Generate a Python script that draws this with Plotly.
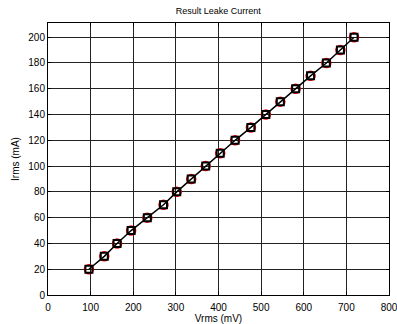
import plotly.graph_objects as go

vrms = [96, 132, 162, 195, 233, 271, 302, 336, 370, 404, 439, 476, 511, 545, 581, 616, 653, 686, 718]
irms = [20, 30, 40, 50, 60, 70, 80, 90, 100, 110, 120, 130, 140, 150, 160, 170, 180, 190, 200]
x_ticks = [0, 100, 200, 300, 400, 500, 600, 700, 800]
y_ticks = [0, 20, 40, 60, 80, 100, 120, 140, 160, 180, 200]

fig = go.Figure()
fig.add_trace(go.Scatter(
    x=vrms, y=irms, mode="markers",
    marker=dict(symbol="circle-open", size=9, color="red", line=dict(width=1.5, color="red")),
    showlegend=False, hoverinfo="skip"))
fig.add_trace(go.Scatter(
    x=vrms, y=irms, mode="lines+markers",
    line=dict(color="black", width=1.5),
    marker=dict(symbol="square-open", size=7, color="black", line=dict(width=2, color="black")),
    showlegend=False))

font = "Liberation Sans, Arial, sans-serif"
axis_common = dict(
    showgrid=True, gridcolor="#222222", gridwidth=1,
    showline=True, linecolor="black", linewidth=1, mirror="ticks",
    ticks="inside", ticklen=3, tickcolor="black",
    zeroline=False, tickfont=dict(family=font, size=10, color="black"),
    automargin=False, ticklabeloverflow="allow",
)
fig.update_xaxes(range=[0, 800], tickvals=x_ticks, ticklabelstandoff=3, **axis_common,
                 title=dict(text="Vrms (mV)", font=dict(family=font, size=10, color="black"), standoff=5))
fig.update_yaxes(range=[0, 211], tickvals=y_ticks, **axis_common,
                 title=dict(text="Irms (mA)", font=dict(family=font, size=10, color="black"), standoff=6))

fig.update_layout(
    width=397, height=324,
    margin=dict(l=48, r=8, t=23, b=29),
    paper_bgcolor="white", plot_bgcolor="white",
    title=dict(text="Result Leake Current", x=0.55, xanchor="center", y=0.975, yanchor="top",
               font=dict(family=font, size=9, color="black")),
)

fig.write_html("out.html")
